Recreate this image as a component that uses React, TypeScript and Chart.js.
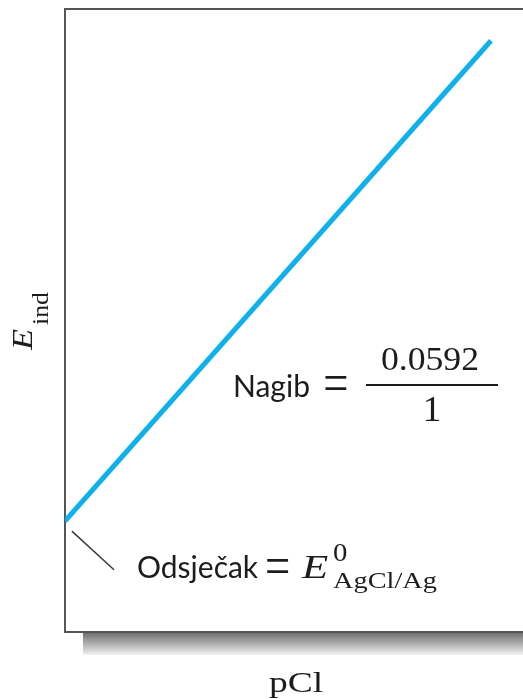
import React, { useEffect, useRef } from "react";
import { Chart, registerables } from "chart.js";

Chart.register(...registerables);

// ---- data (axis units: pCl on x, E_ind on y, both 0..10 arbitrary units) ----
const pClValues = [0, 9.3];
const eIndValues = [1.78, 9.49];
const leaderX = [0.15, 1.07];
const leaderY = [1.62, 1.0];

const xTitle = "pCl";
const yTitleMain = "E";
const yTitleSub = "ind";
const slopeLabel = "Nagib";
const slopeNumerator = "0.0592";
const slopeDenominator = "1";
const interceptLabel = "Odsječak";
const interceptSymbol = "E";
const interceptSup = "0";
const interceptSub = "AgCl/Ag";

// ---- annotation anchors in data units ----
const anchors = {
  slopeLabel: [3.668, 3.772],
  slopeEq: [5.917, 3.965],
  fracBar: [6.572, 9.454, 3.965],
  numerator: [7.969, 4.205],
  denominator: [8.013, 3.387],
  interceptLabel: [1.572, 0.867],
  interceptEq: [4.64, 1.027],
  interceptE: [5.175, 0.867],
  interceptSup: [5.852, 1.14],
  interceptSub: [5.852, 0.706],
  xTitle: [5.044, -0.963],
  yTitle: [-0.721, 4.992],
};

const SANS = "Lato, 'Open Sans', sans-serif";
const SERIF = "'Liberation Serif', 'Times New Roman', serif";
const TEXT = "#1c1c1c";

function drawText(
  ctx: CanvasRenderingContext2D,
  s: string,
  x: number,
  y: number,
  font: string,
  align: CanvasTextAlign,
  sx = 1
) {
  ctx.save();
  ctx.font = font;
  ctx.fillStyle = TEXT;
  ctx.textAlign = align;
  ctx.textBaseline = "alphabetic";
  ctx.translate(x, y);
  ctx.scale(sx, 1);
  ctx.fillText(s, 0, 0);
  ctx.restore();
}

const framePlugin = {
  id: "frame",
  beforeDatasetsDraw(chart: any) {
    const { ctx, chartArea: a } = chart;
    ctx.save();
    const g = ctx.createLinearGradient(0, a.bottom + 1, 0, a.bottom + 23);
    g.addColorStop(0, "#727272");
    g.addColorStop(0.6, "#bdbdbd");
    g.addColorStop(1, "#f2f2f2");
    ctx.fillStyle = g;
    ctx.fillRect(a.left + 18, a.bottom + 1, a.right - a.left, 22);
    ctx.strokeStyle = "#555555";
    ctx.lineWidth = 2;
    ctx.beginPath();
    ctx.moveTo(a.right + 5, a.top);
    ctx.lineTo(a.left, a.top);
    ctx.lineTo(a.left, a.bottom);
    ctx.lineTo(a.right + 5, a.bottom);
    ctx.stroke();
    ctx.restore();
  },
  afterDatasetsDraw(chart: any) {
    const { ctx } = chart;
    const X = (v: number) => chart.scales.x.getPixelForValue(v);
    const Y = (v: number) => chart.scales.y.getPixelForValue(v);
    const P = (k: keyof typeof anchors) => [X(anchors[k][0]), Y(anchors[k][1])];

    // slope annotation
    let [x, y] = P("slopeLabel");
    drawText(ctx, slopeLabel, x, y, `30px ${SANS}`, "left", 1.0);
    [x, y] = P("slopeEq");
    drawText(ctx, "=", x, y + 17, `56px ${SERIF}`, "center", 0.8);
    const fb = anchors.fracBar;
    ctx.save();
    ctx.strokeStyle = TEXT;
    ctx.lineWidth = 1.8;
    ctx.beginPath();
    ctx.moveTo(X(fb[0]), Y(fb[2]));
    ctx.lineTo(X(fb[1]), Y(fb[2]));
    ctx.stroke();
    ctx.restore();
    [x, y] = P("numerator");
    drawText(ctx, slopeNumerator, x, y, `34px ${SERIF}`, "center", 1.05);
    [x, y] = P("denominator");
    drawText(ctx, slopeDenominator, x, y, `36px ${SERIF}`, "center", 1.05);

    // intercept annotation
    [x, y] = P("interceptLabel");
    drawText(ctx, interceptLabel, x, y, `30px ${SANS}`, "left", 1.0);
    [x, y] = P("interceptEq");
    drawText(ctx, "=", x, y + 17, `56px ${SERIF}`, "center", 0.8);
    [x, y] = P("interceptE");
    drawText(ctx, interceptSymbol, x, y, `italic 33px ${SERIF}`, "left", 1.3);
    [x, y] = P("interceptSup");
    drawText(ctx, interceptSup, x, y, `25px ${SERIF}`, "left", 1.15);
    [x, y] = P("interceptSub");
    drawText(ctx, interceptSub, x, y, `24px ${SERIF}`, "left", 1.18);

    // axis titles
    [x, y] = P("xTitle");
    drawText(ctx, xTitle, x, y, `30px ${SERIF}`, "center", 1.25);

    [x, y] = P("yTitle");
    ctx.save();
    ctx.translate(x, y);
    ctx.rotate(-Math.PI / 2);
    drawText(ctx, yTitleMain, -29, 0, `italic 30px ${SERIF}`, "left", 1.15);
    drawText(ctx, yTitleSub, -4, 16, `23px ${SERIF}`, "left", 1.12);
    ctx.restore();
  },
};

export default function App() {
  const ref = useRef<HTMLCanvasElement | null>(null);
  useEffect(() => {
    if (!ref.current) return;
    const chart = new Chart(ref.current, {
      type: "scatter",
      data: {
        datasets: [
          {
            label: "E_ind",
            data: pClValues.map((v, i) => ({ x: v, y: eIndValues[i] })),
            showLine: true,
            borderColor: "#10b0ea",
            borderWidth: 5,
            borderCapStyle: "butt",
            pointRadius: 0,
            tension: 0,
          },
          {
            label: "leader",
            data: leaderX.map((v, i) => ({ x: v, y: leaderY[i] })),
            showLine: true,
            borderColor: "#3a3a3a",
            borderWidth: 1.5,
            pointRadius: 0,
            tension: 0,
          },
        ],
      },
      options: {
        animation: false,
        responsive: false,
        maintainAspectRatio: false,
        layout: { padding: { left: 65, top: 9, right: 0, bottom: 67 } },
        plugins: {
          legend: { display: false },
          tooltip: { enabled: false },
          title: { display: false },
        },
        scales: {
          x: { type: "linear", min: 0, max: 10, display: false },
          y: { type: "linear", min: 0, max: 10, display: false },
        },
      },
      plugins: [framePlugin],
    });
    return () => chart.destroy();
  }, []);
  return (
    <div style={{ position: "fixed", left: 0, top: 0, width: 523, height: 699, background: "#fff" }}>
      <canvas ref={ref} width={523} height={699} style={{ display: "block" }} />
    </div>
  );
}
